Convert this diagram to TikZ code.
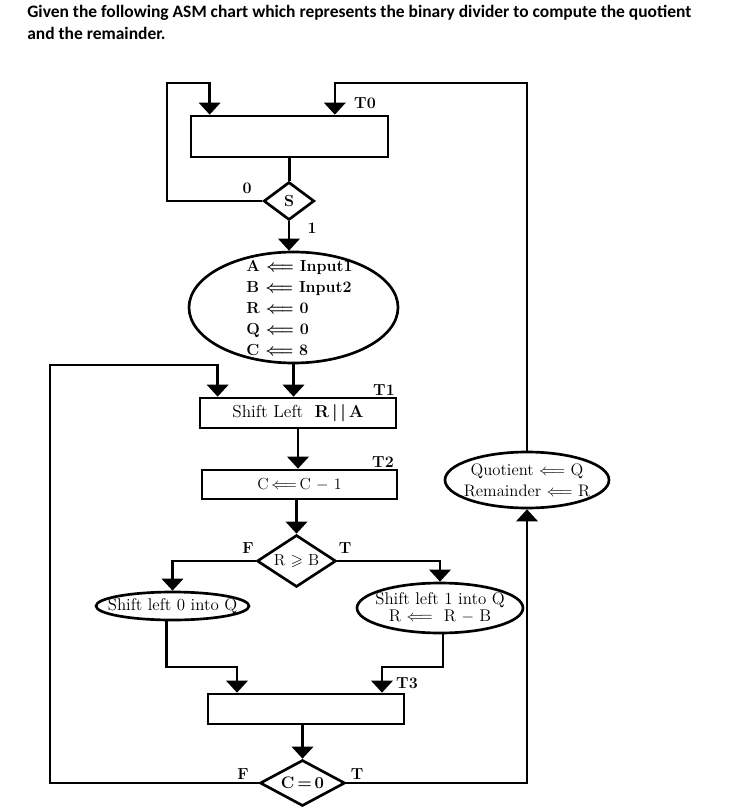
\documentclass[tikz,border=0pt]{standalone}
\usepackage{amsmath}
\usepackage{amssymb}
\usepackage{fontspec}
\newfontfamily\headfont{Carlito}
\usepackage{tikz}
\usetikzlibrary{shapes.geometric, arrows.meta}

\begin{document}
\begin{tikzpicture}[x=0.75pt, y=-0.75pt, line width=2pt,
        every node/.style={font=\fontsize{12}{14}\selectfont},
        box/.style={draw, rectangle, inner sep=0pt},
        cond/.style={draw, diamond, aspect=2, inner sep=0pt},
        oval/.style={draw, ellipse, inner xsep=-40pt, inner ysep=-20pt, align=center},
        lbl/.style={font=\fontsize{12}{14}\selectfont\bfseries, inner sep=0pt},
        head/.style={anchor=base west, inner sep=0pt, font=\headfont\bfseries\fontsize{13.1}{15}\selectfont},
        arr/.style={-{Triangle[width=16pt,length=9pt]}}]
        \useasboundingbox (0,0) rectangle (745,809);

        \node[head] (head1) at (26,17.5)
            {Given the following ASM chart which represents the binary divider to compute the quotient};
        \node[head] (head2) at (26,40) {and the remainder.};

        \node[box, minimum width=147.75pt, minimum height=30.75pt] (init) at (289.5,136.5) {};
        \node[cond, minimum width=38pt, minimum height=28.5pt, font=\fontsize{12}{14}\selectfont\bfseries] (S) at (289,201) {S};
        \node[oval, minimum width=156.75pt, minimum height=83.25pt, align=left,
            font=\fontsize{12}{15.75}\selectfont\bfseries\boldmath] (setup) at (293.5,307.5)
            {\hspace*{9pt}A $\Longleftarrow$ Input1\\ \hspace*{9pt}B $\Longleftarrow$ Input2\\ \hspace*{9pt}R $\Longleftarrow$ 0\\
             \hspace*{9pt}Q $\Longleftarrow$ 0\\ \hspace*{9pt}C $\Longleftarrow$ 8};
        \node[box, minimum width=147pt, minimum height=22.5pt, font=\fontsize{13}{15}\selectfont] (shift) at (298,413)
            {Shift Left\ \ \textbf{R\,|\,|\,A}};
        \node[box, minimum width=146.25pt, minimum height=21.75pt] (dec) at (299.5,484.5)
            {C\,$\Longleftarrow$\,C $-$ 1};
        \node[cond, minimum width=59.25pt, minimum height=39pt] (cmp) at (296.5,561) {R $\geqslant$ B};
        \node[oval, minimum width=114.75pt, minimum height=21pt, font=\fontsize{12.7}{15}\selectfont] (zl) at (172.5,606)
            {Shift left 0 into Q};
        \node[oval, minimum width=124.5pt, minimum height=37.5pt, font=\fontsize{12.7}{12.75}\selectfont] (zr) at (440,608)
            {\rule{0pt}{9pt}Shift left 1 into Q\\ R $\Longleftarrow$\ \ R $-$ B};
        \node[oval, minimum width=123pt, minimum height=42pt, font=\fontsize{12.5}{15.75}\selectfont] (done) at (527,480)
            {Quotient $\Longleftarrow$ Q\\ Remainder $\Longleftarrow$ R};
        \node[box, minimum width=147pt, minimum height=22.5pt] (join) at (306,709) {};
        \node[cond, minimum width=63.75pt, minimum height=34.5pt, font=\fontsize{12.5}{14}\selectfont\bfseries] (zero) at (302.5,783)
            {C\,=\,0};

        % state and branch labels
        \node[lbl] (lT0) at (365,103) {T0};
        \node[lbl] (lS0) at (247,188) {0};
        \node[lbl] (lS1) at (312,228) {1};
        \node[lbl] (lT1) at (384,390) {T1};
        \node[lbl] (lT2) at (383,462) {T2};
        \node[lbl] (lCF) at (248,548) {F};
        \node[lbl] (lCT) at (345,548) {T};
        \node[lbl] (lT3) at (407,683) {T3};
        \node[lbl] (lZF) at (243,774) {F};
        \node[lbl] (lZT) at (357,774) {T};

        \coordinate (loop0) at (167,83);
        \coordinate (ret) at (527,83);
        \coordinate (loopF) at (50,365);
        \coordinate (mergeL) at (237,667);
        \coordinate (mergeR) at (382,667);
        \coordinate (in0) at ([xshift=15pt]init.north west);
        \coordinate (inT0) at ([xshift=34pt]init.north);
        \coordinate (inF) at ([xshift=14.25pt]shift.north west);

        % init -> S
        \draw (init.south) -- (init.south |- S.north);
        % S -> init (0)
        \draw[arr] (S.west) -| (loop0) -| (in0);
        % S -> setup (1)
        \draw[arr] (S.south) -- (S.south |- setup.north);
        % setup -> shift -> dec -> cmp
        \draw[arr] (setup.south) -- (setup.south |- shift.north);
        \draw[arr] (shift.south) -- (shift.south |- dec.north);
        \draw[arr] (cmp.north |- dec.south) -- (cmp.north);
        % cmp -> zl (F), cmp -> zr (T)
        \draw[arr] (cmp.west) -| (zl.north);
        \draw[arr] (cmp.east) -| (zr.north);
        % zl, zr -> join
        \draw[arr] ([xshift=-4.5pt]zl.south) |- (mergeL) -- (mergeL |- join.north);
        \draw[arr] ([xshift=2.25pt]zr.south) |- (mergeR) -- (mergeR |- join.north);
        % join -> zero
        \draw[arr] (zero.north |- join.south) -- (zero.north);
        % zero -> shift (F)
        \draw[arr] (zero.west) -| (loopF) -| (inF);
        % zero -> done (T)
        \draw[arr] (zero.east) -| (done.south);
        % done -> init
        \draw[arr] (done.north) -- (ret) -| (inT0);
    \end{tikzpicture}
\end{document}
